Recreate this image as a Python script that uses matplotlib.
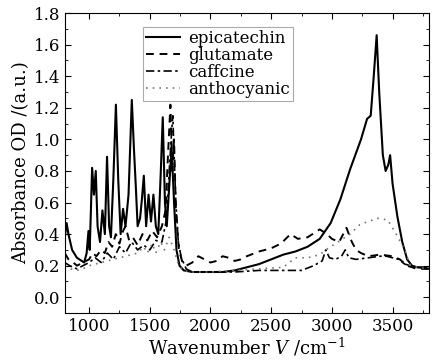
import matplotlib
matplotlib.use("Agg")
import matplotlib.pyplot as plt
from matplotlib.ticker import MultipleLocator

plt.rcParams['font.family'] = 'DejaVu Serif'
plt.rcParams['mathtext.fontset'] = 'dejavuserif'

# epicatechin
epi_w = [800, 815, 830, 860, 900, 940, 960, 980, 995, 1005, 1015, 1025, 1040, 1055, 1070, 1090,
         1110, 1130, 1148, 1165, 1180, 1200, 1221, 1240, 1260, 1280, 1300, 1325, 1352, 1369, 1385,
         1400, 1420, 1435, 1451, 1470, 1490, 1510, 1530, 1550, 1570, 1590, 1607, 1625, 1640, 1660,
         1680, 1700, 1720, 1745, 1780, 1850, 2000, 2100, 2200, 2300, 2400, 2500, 2600, 2700, 2800,
         2900, 2990, 3070, 3150, 3240, 3290, 3320, 3345, 3369, 3390, 3420, 3443, 3465, 3480, 3500,
         3540, 3580, 3620, 3660, 3700, 3750, 3800]
epi_v = [0.38, 0.47, 0.40, 0.30, 0.25, 0.23, 0.22, 0.28, 0.42, 0.30, 0.55, 0.82, 0.65, 0.80, 0.45, 0.35,
         0.55, 0.40, 0.89, 0.45, 0.38, 0.75, 1.22, 0.75, 0.40, 0.56, 0.45, 0.65, 1.25, 0.95, 0.70,
         0.45, 0.50, 0.62, 0.77, 0.45, 0.65, 0.48, 0.65, 0.45, 0.40, 0.78, 1.14, 0.60, 0.45, 0.70,
         0.95, 0.60, 0.30, 0.20, 0.17, 0.16, 0.16, 0.16, 0.17, 0.19, 0.21, 0.24, 0.27, 0.29, 0.32,
         0.37, 0.47, 0.62, 0.81, 1.00, 1.13, 1.15, 1.40, 1.66, 1.30, 0.90, 0.80, 0.84, 0.90, 0.72,
         0.51, 0.35, 0.24, 0.20, 0.19, 0.19, 0.18]

# glutamate
glu_w = [800, 830, 870, 900, 950, 1000, 1030, 1060, 1100, 1130, 1160, 1190, 1220, 1250, 1280, 1300,
         1330, 1360, 1400, 1440, 1480, 1520, 1560, 1600, 1630, 1650, 1670, 1685, 1700, 1715, 1740,
         1770, 1800, 1850, 1900, 1950, 2000, 2050, 2100, 2150, 2200, 2250, 2300, 2400, 2500, 2580,
         2660, 2720, 2800, 2900, 2960, 3000, 3060, 3120, 3165, 3200, 3240, 3300, 3400, 3500, 3560,
         3620, 3700, 3800]
glu_v = [0.28, 0.24, 0.22, 0.20, 0.22, 0.24, 0.28, 0.26, 0.30, 0.28, 0.35, 0.32, 0.40, 0.34, 0.42, 0.45,
         0.36, 0.38, 0.33, 0.40, 0.36, 0.42, 0.38, 0.45, 0.55, 0.90, 1.22, 0.80, 1.00, 0.55, 0.30,
         0.22, 0.20, 0.22, 0.26, 0.24, 0.22, 0.23, 0.26, 0.25, 0.23, 0.24, 0.26, 0.29, 0.31, 0.34,
         0.40, 0.37, 0.38, 0.43, 0.40, 0.37, 0.35, 0.44, 0.35, 0.30, 0.28, 0.26, 0.27, 0.26, 0.24,
         0.20, 0.18, 0.18]

# caffcine
caf_w = [800, 840, 900, 950, 1000, 1050, 1100, 1150, 1200, 1250, 1300, 1350, 1400, 1450, 1500, 1550,
         1600, 1640, 1660, 1680, 1690, 1700, 1715, 1735, 1760, 1800, 1850, 2000, 2200, 2400, 2600,
         2750, 2850, 2920, 2950, 2980, 3030, 3080, 3110, 3140, 3200, 3300, 3400, 3450, 3550, 3600,
         3700, 3800]
caf_v = [0.22, 0.20, 0.18, 0.20, 0.22, 0.25, 0.22, 0.28, 0.24, 0.32, 0.28, 0.35, 0.30, 0.33, 0.30, 0.36,
         0.35, 0.50, 0.80, 1.05, 1.15, 0.90, 0.60, 0.35, 0.25, 0.18, 0.16, 0.16, 0.16, 0.17, 0.17,
         0.17, 0.20, 0.23, 0.30, 0.25, 0.24, 0.26, 0.30, 0.25, 0.24, 0.25, 0.26, 0.26, 0.24, 0.21,
         0.19, 0.18]

# anthocyanic
ant_w = [800, 850, 900, 950, 1000, 1100, 1200, 1300, 1400, 1450, 1480, 1520, 1550, 1590, 1620, 1660,
         1700, 1730, 1770, 1850, 2000, 2200, 2400, 2600, 2700, 2800, 2900, 2950, 3050, 3150, 3230,
         3300, 3377, 3460, 3530, 3600, 3640, 3700, 3800]
ant_v = [0.20, 0.18, 0.17, 0.18, 0.20, 0.22, 0.24, 0.26, 0.28, 0.32, 0.28, 0.34, 0.28, 0.35, 0.30, 0.38,
         0.30, 0.22, 0.17, 0.16, 0.16, 0.17, 0.18, 0.19, 0.25, 0.25, 0.27, 0.30, 0.35, 0.40, 0.46,
         0.48, 0.50, 0.49, 0.40, 0.30, 0.21, 0.19, 0.18]

fig = plt.figure(figsize=(4.32, 3.64), dpi=100)
ax = fig.add_axes([0.150, 0.140, 0.843, 0.824])

ax.plot(epi_w, epi_v, color='black', linestyle='-', linewidth=1.5, label='epicatechin')
ax.plot(glu_w, glu_v, color='black', linestyle=(0, (4, 3)), linewidth=1.4, label='glutamate')
ax.plot(caf_w, caf_v, color='black', linestyle=(0, (5, 2, 1.5, 2)), linewidth=1.2, label='caffcine')
ax.plot(ant_w, ant_v, color='#777777', linestyle=(0, (1, 3)), linewidth=1.2, label='anthocyanic')

ax.set_xlim(800, 3800)
ax.set_ylim(-0.1, 1.8)
ax.xaxis.set_major_locator(MultipleLocator(500))
ax.xaxis.set_minor_locator(MultipleLocator(250))
ax.yaxis.set_major_locator(MultipleLocator(0.2))
ax.yaxis.set_minor_locator(MultipleLocator(0.1))
ax.tick_params(which='both', direction='in', top=True, right=True, labelsize=12)
ax.tick_params(which='major', length=4)
ax.tick_params(which='minor', length=2)
ax.yaxis.set_major_formatter(matplotlib.ticker.FormatStrFormatter('%.1f'))

ax.set_xlabel(r'Wavenumber $V$ /cm$^{-1}$', fontsize=13, labelpad=1)
ax.set_ylabel('Absorbance OD /(a.u.)', fontsize=13, labelpad=2)

leg = ax.legend(loc='upper left', bbox_to_anchor=(0.215, 0.955), fontsize=12, handlelength=2.0,
                labelspacing=0.0, borderpad=0.2, handletextpad=0.5, borderaxespad=0.0,
                fancybox=False, framealpha=1)
leg.get_frame().set_edgecolor('#aaaaaa')
leg.get_frame().set_linewidth(0.8)

fig.savefig('out.png', dpi=100)
